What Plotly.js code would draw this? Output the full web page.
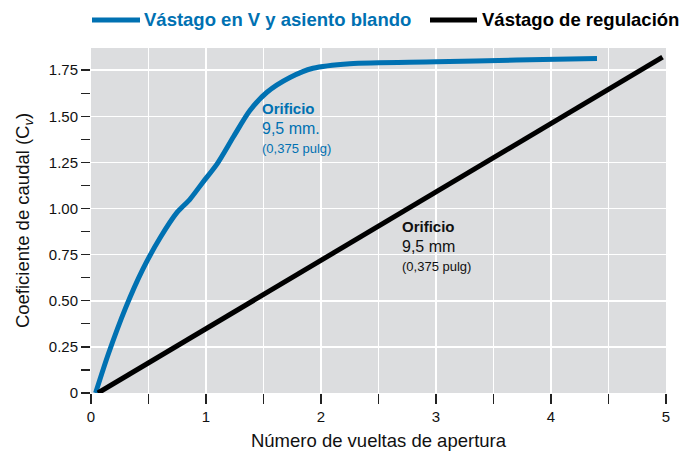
<!DOCTYPE html>
<html>
<head>
<meta charset="utf-8">
<script src="https://cdn.plot.ly/plotly-3.0.1.min.js"></script>
<style>html,body{margin:0;padding:0;background:#fff;}#chart{width:681px;height:455px;}</style>
</head>
<body>
<div id="chart"></div>
<script>
// Data
var vSeatName = 'Vástago en V y asiento blando';
var vSeatX = [0.04, 0.15, 0.30, 0.45, 0.60, 0.75, 0.86, 0.97, 1.10, 1.24, 1.38, 1.53, 1.73, 1.93, 2.25, 3.0, 3.7, 4.4];
var vSeatY = [0, 0.21, 0.46, 0.67, 0.84, 0.98, 1.05, 1.14, 1.245, 1.39, 1.53, 1.63, 1.71, 1.76, 1.785, 1.795, 1.805, 1.813];

var regName = 'Vástago de regulación';
var regX = [0.06, 4.97];
var regY = [0, 1.82];

var xTickVals = [0, 0.5, 1, 1.5, 2, 2.5, 3, 3.5, 4, 4.5, 5];
var xTickText = ['0', '', '1', '', '2', '', '3', '', '4', '', '5'];
var yTickVals = [0, 0.25, 0.5, 0.75, 1, 1.25, 1.5, 1.75];
var yTickText = ['0', '0.25', '0.50', '0.75', '1.00', '1.25', '1.50', '1.75'];

var BLUE = '#0071b2';
var BLACK = '#000000';
var FONT = 'Liberation Sans, Arial, Helvetica, sans-serif';

var traces = [
  {x: vSeatX, y: vSeatY, name: vSeatName, type: 'scatter', mode: 'lines',
   line: {color: BLUE, width: 5, shape: 'spline', smoothing: 0.8}, showlegend: false, hoverinfo: 'skip'},
  {x: regX, y: regY, name: regName, type: 'scatter', mode: 'lines',
   line: {color: BLACK, width: 5}, showlegend: false, hoverinfo: 'skip'}
];

function px2paperX(px) { return (px - 91) / 575; }
function px2paperY(py) { return (393 - py) / 345; }

var layout = {
  width: 681, height: 455,
  margin: {l: 91, r: 15, t: 48, b: 62, pad: 0},
  paper_bgcolor: '#ffffff',
  plot_bgcolor: '#dcdddf',
  font: {family: FONT, size: 15, color: '#111'},
  xaxis: {
    range: [0, 5], tickmode: 'array', tickvals: xTickVals, ticktext: xTickText,
    showgrid: true, gridcolor: '#ffffff', gridwidth: 1.5, zeroline: false, showline: false,
    ticks: 'outside', ticklen: 10, tickwidth: 1.3, tickcolor: '#222',
    tickfont: {size: 15, color: '#111'},
    title: {text: 'Número de vueltas de apertura', font: {size: 18.5, color: '#111'}, standoff: 10},
    fixedrange: true
  },
  yaxis: {
    range: [0, 1.87], tickmode: 'array', tickvals: yTickVals, ticktext: yTickText,
    showgrid: true, gridcolor: '#ffffff', gridwidth: 1.5, zeroline: false, showline: false,
    ticks: 'outside', ticklen: 9, tickwidth: 1.3, tickcolor: '#222',
    tickfont: {size: 15, color: '#111'},
    minor: {tickmode: 'linear', tick0: 0, dtick: 0.125, ticks: 'outside', ticklen: 9, tickwidth: 1.3, tickcolor: '#222', showgrid: false},
    title: {text: 'Coeficiente de caudal (C<sub><i>v</i></sub>)', font: {size: 18.5, color: '#111'}, standoff: 14},
    fixedrange: true
  },
  shapes: [
    {type: 'line', xref: 'paper', yref: 'paper', x0: px2paperX(92), x1: px2paperX(140), y0: px2paperY(20), y1: px2paperY(20), line: {color: BLUE, width: 5}},
    {type: 'line', xref: 'paper', yref: 'paper', x0: px2paperX(430), x1: px2paperX(477), y0: px2paperY(20), y1: px2paperY(20), line: {color: BLACK, width: 5}}
  ],
  annotations: [
    {xref: 'paper', yref: 'paper', x: px2paperX(142), y: px2paperY(20), xanchor: 'left', yanchor: 'middle', showarrow: false,
     text: '<b>' + vSeatName + '</b>', font: {size: 18.5, color: BLUE}},
    {xref: 'paper', yref: 'paper', x: px2paperX(480), y: px2paperY(20), xanchor: 'left', yanchor: 'middle', showarrow: false,
     text: '<b>' + regName + '</b>', font: {size: 18.5, color: BLACK}},
    {x: 1.47, y: 1.544, xanchor: 'left', yanchor: 'middle', showarrow: false, text: '<b>Orificio</b>', font: {size: 15, color: BLUE}},
    {x: 1.47, y: 1.436, xanchor: 'left', yanchor: 'middle', showarrow: false, text: '9,5 mm.', font: {size: 16, color: BLUE}},
    {x: 1.47, y: 1.327, xanchor: 'left', yanchor: 'middle', showarrow: false, text: '(0,375 pulg)', font: {size: 13, color: BLUE}},
    {x: 2.69, y: 0.905, xanchor: 'left', yanchor: 'middle', showarrow: false, text: '<b>Orificio</b>', font: {size: 15, color: '#111'}},
    {x: 2.69, y: 0.796, xanchor: 'left', yanchor: 'middle', showarrow: false, text: '9,5 mm', font: {size: 16, color: '#111'}},
    {x: 2.69, y: 0.688, xanchor: 'left', yanchor: 'middle', showarrow: false, text: '(0,375 pulg)', font: {size: 13, color: '#111'}}
  ]
};

Plotly.newPlot('chart', traces, layout, {staticPlot: true, displayModeBar: false});
</script>
</body>
</html>
